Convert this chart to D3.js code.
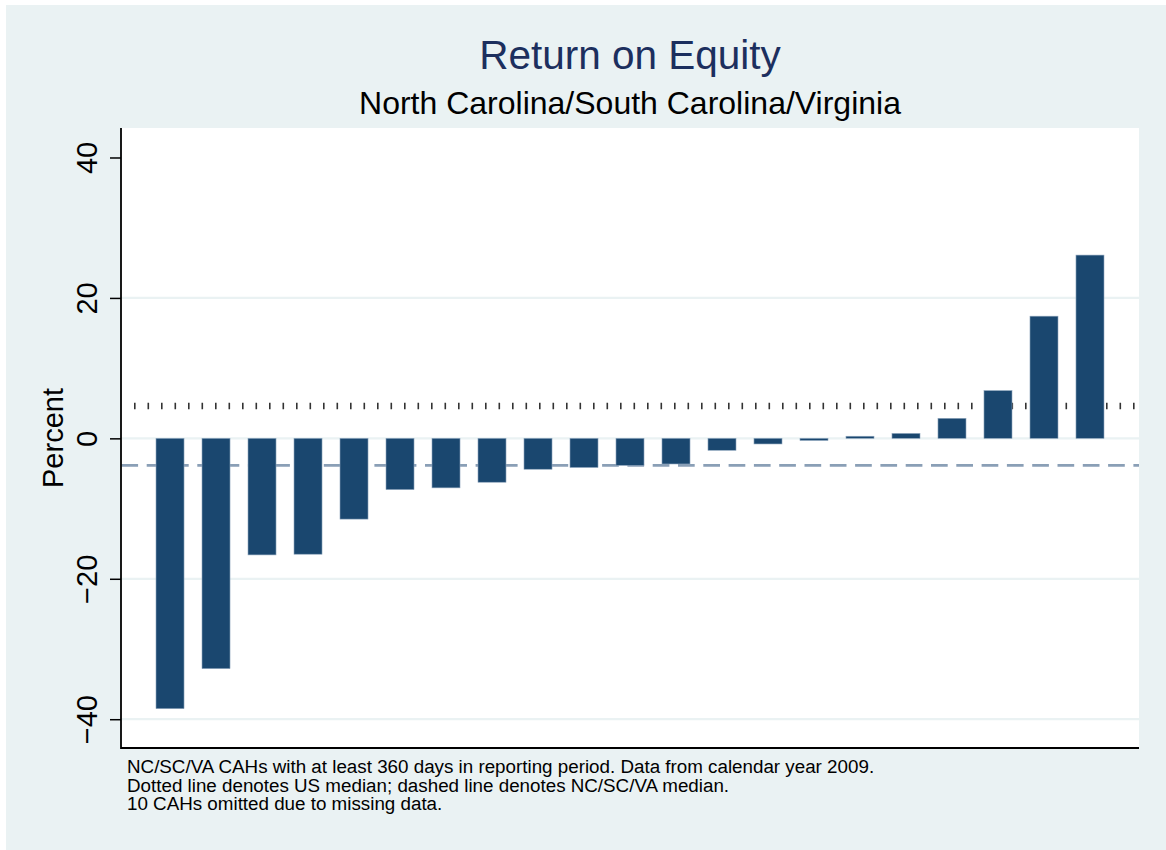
<!DOCTYPE html>
<html>
<head>
<meta charset="utf-8">
<script src="https://cdn.jsdelivr.net/npm/d3@7"></script>
<style>
  html, body { margin: 0; padding: 0; background: #ffffff; }
  svg { display: block; }
  text { font-family: "Liberation Sans", Arial, Helvetica, sans-serif; }
</style>
</head>
<body>
<div id="chart"></div>
<script>
// ---- data ----
const categories = d3.range(1, 22).map(d => "CAH " + d);
const roeValues = [-38.5, -32.8, -16.6, -16.5, -11.5, -7.3, -7.05, -6.25, -4.4, -4.15,
                   -3.85, -3.65, -1.7, -0.8, -0.3, 0.3, 0.7, 2.85, 6.8, 17.4, 26.1];
const usMedian = [4.6];
const regionMedian = [-3.85];
const yTicks = [-40, -20, 0, 20, 40];
const gridTicks = [-40, -20, 0, 20];
const titleText = "Return on Equity";
const subtitleText = "North Carolina/South Carolina/Virginia";
const yLabel = "Percent";
const noteLines = [
  "NC/SC/VA CAHs with at least 360 days in reporting period. Data from calendar year 2009.",
  "Dotted line denotes US median; dashed line denotes NC/SC/VA median.",
  "10 CAHs omitted due to missing data."
];

// ---- layout ----
const W = 1166, H = 850;
const plot = { left: 121, right: 1139, top: 128, bottom: 748 };

const svg = d3.select("#chart").append("svg")
  .attr("width", W).attr("height", H);

// backgrounds
svg.append("rect").attr("x", 0).attr("y", 0).attr("width", W).attr("height", H).attr("fill", "#ffffff");
svg.append("rect").attr("x", 6).attr("y", 5).attr("width", W - 6).attr("height", H - 5).attr("fill", "#eaf2f3");
svg.append("rect").attr("x", plot.left).attr("y", plot.top)
  .attr("width", plot.right - plot.left).attr("height", plot.bottom - plot.top).attr("fill", "#ffffff");

// scales
const x = d3.scaleBand().domain(categories).range([plot.left, plot.right])
  .paddingInner(0.391).paddingOuter(0.761);
const y = d3.scaleLinear().domain([-44.1, 44.2]).range([plot.bottom, plot.top]);

// grid
svg.append("g").selectAll("line").data(gridTicks).join("line")
  .attr("x1", plot.left).attr("x2", plot.right)
  .attr("y1", d => y(d)).attr("y2", d => y(d))
  .attr("stroke", "#eaf2f3").attr("stroke-width", 2.2);

// reference lines (behind bars)
svg.append("g").selectAll("line").data(usMedian).join("line")
  .attr("x1", plot.left + 13).attr("x2", plot.right)
  .attr("y1", d => y(d)).attr("y2", d => y(d))
  .attr("stroke", "#333333").attr("stroke-width", 6.5)
  .attr("stroke-dasharray", "1.6 11.9");

svg.append("g").selectAll("line").data(regionMedian).join("line")
  .attr("x1", plot.left + 0.4).attr("x2", plot.right)
  .attr("y1", d => y(d)).attr("y2", d => y(d))
  .attr("stroke", "#8a9fb6").attr("stroke-width", 2.6)
  .attr("stroke-dasharray", "16.7 8.6");

// bars
svg.append("g").selectAll("rect").data(roeValues).join("rect")
  .attr("x", (d, i) => x(categories[i]))
  .attr("width", x.bandwidth())
  .attr("y", d => y(Math.max(0, d)))
  .attr("height", d => Math.abs(y(d) - y(0)))
  .attr("fill", "#1a476f")
  .attr("stroke", "#8ea5bd").attr("stroke-width", 0.6);

// y axis
const yAxis = d3.axisLeft(y).tickValues(yTicks).tickSize(11).tickPadding(0)
  .tickFormat(d => (d < 0 ? "\u2212" + Math.abs(d) : String(d)));
const gy = svg.append("g").attr("transform", `translate(${plot.left},0)`).call(yAxis);
gy.select(".domain").remove();
gy.selectAll(".tick line").attr("stroke", "#000").attr("stroke-width", 1.5);
gy.selectAll(".tick text")
  .attr("x", null).attr("dy", null)
  .attr("transform", "translate(-24,0) rotate(-90)")
  .attr("text-anchor", "middle")
  .attr("font-size", 29).attr("fill", "#000");
svg.append("line").attr("x1", plot.left).attr("x2", plot.left)
  .attr("y1", plot.top).attr("y2", plot.bottom + 1)
  .attr("stroke", "#000").attr("stroke-width", 1.8);

// x axis line (no ticks)
const xAxis = d3.axisBottom(x).tickSize(0).tickFormat("");
const gx = svg.append("g").attr("transform", `translate(0,${plot.bottom})`).call(xAxis);
gx.select(".domain").attr("d", `M${plot.left},0H${plot.right}`).attr("stroke", "#000").attr("stroke-width", 1.8);
gx.selectAll(".tick").remove();

// y label
svg.append("text")
  .attr("transform", `translate(63,${(plot.top + plot.bottom) / 2}) rotate(-90)`)
  .attr("text-anchor", "middle").attr("font-size", 29).attr("fill", "#000")
  .text(yLabel);

// titles
svg.append("text").attr("x", (plot.left + plot.right) / 2).attr("y", 69)
  .attr("text-anchor", "middle").attr("font-size", 40.5).attr("fill", "#1c2f5e")
  .text(titleText);
svg.append("text").attr("x", (plot.left + plot.right) / 2).attr("y", 114)
  .attr("text-anchor", "middle").attr("font-size", 32).attr("fill", "#000")
  .text(subtitleText);

// note
svg.append("g").selectAll("text").data(noteLines).join("text")
  .attr("x", 127).attr("y", (d, i) => 772.7 + i * 18.8)
  .attr("font-size", 18.8).attr("fill", "#000")
  .text(d => d);
</script>
</body>
</html>
